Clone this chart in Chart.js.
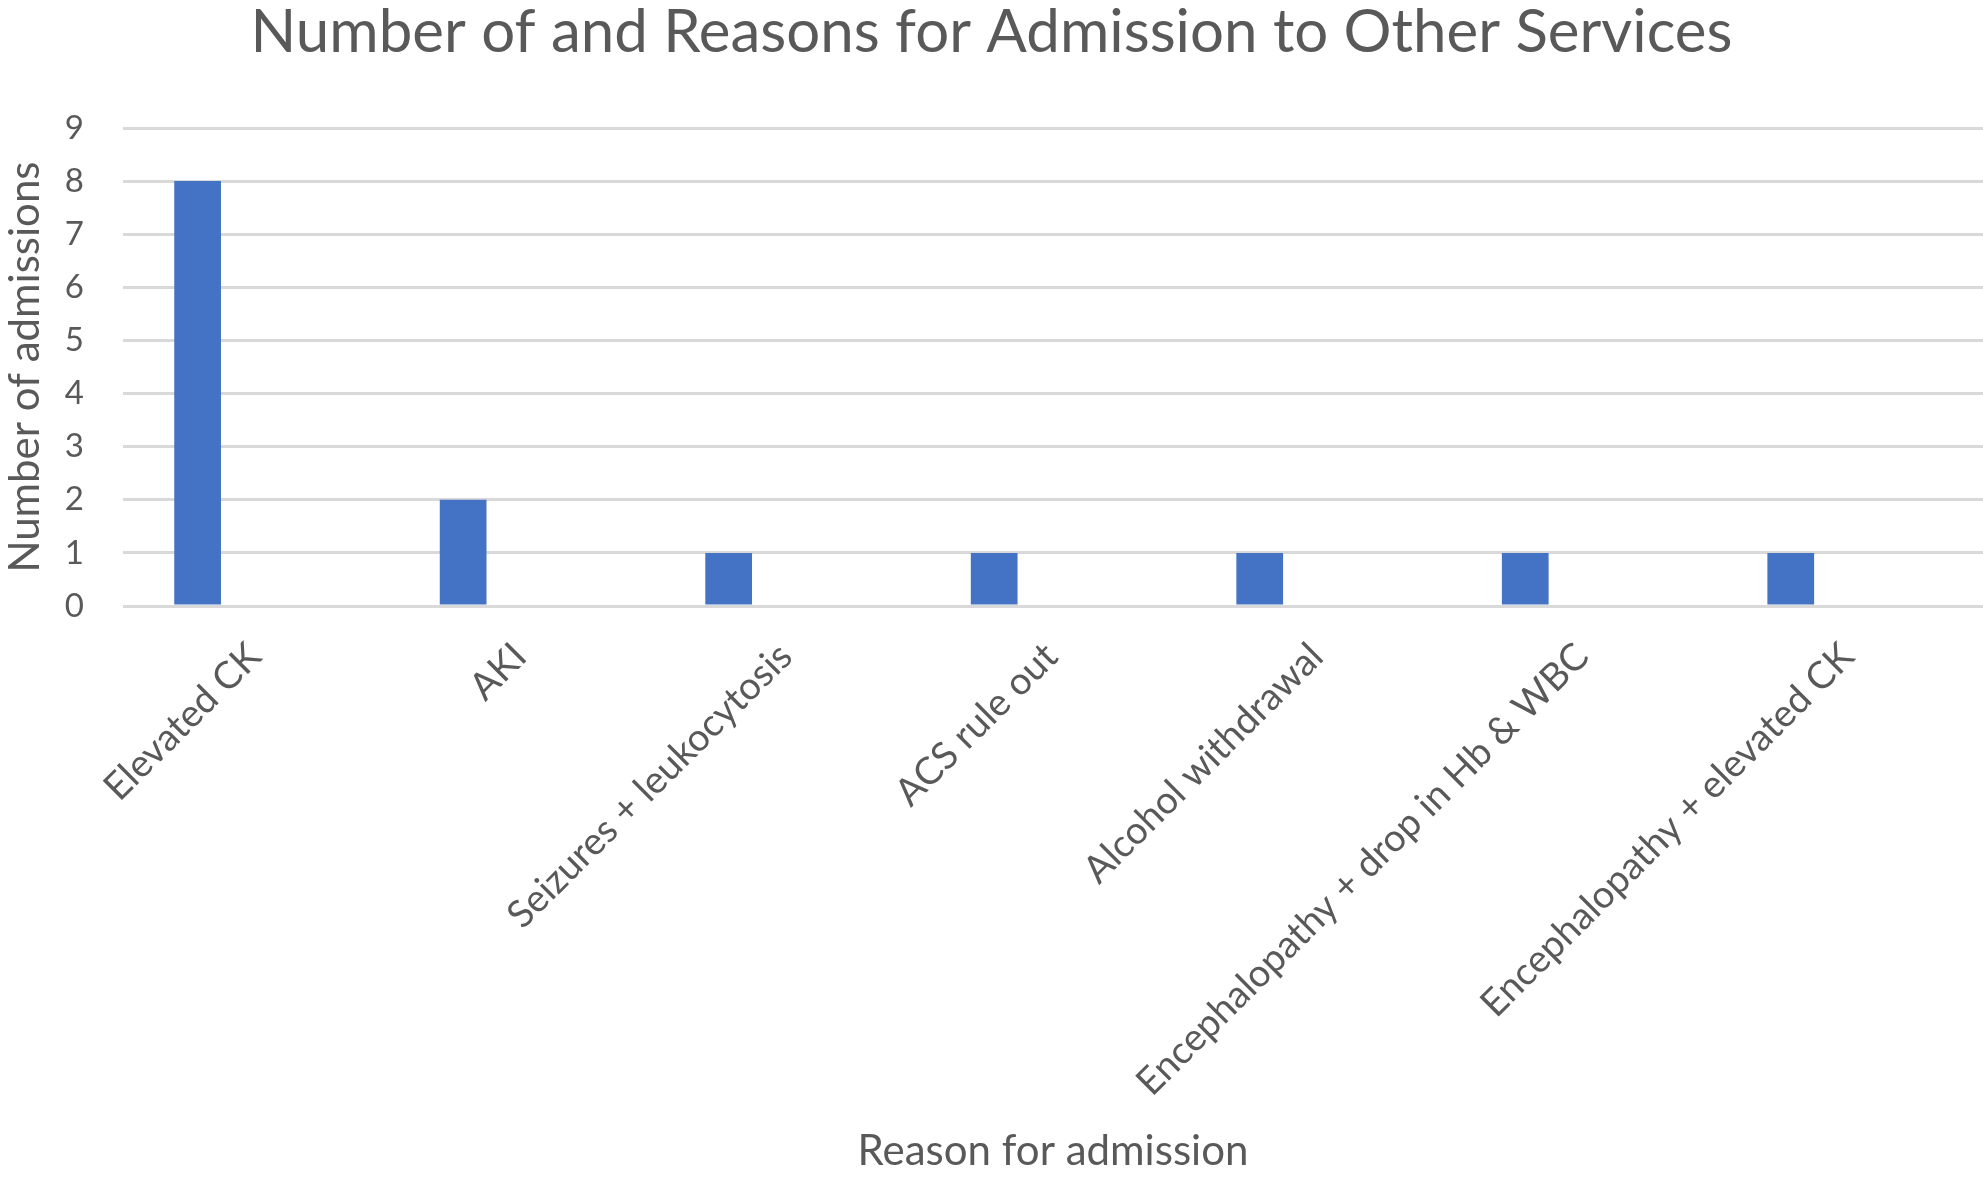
<!DOCTYPE html>
<html>
<head>
<meta charset="utf-8">
<script src="https://cdn.jsdelivr.net/npm/chart.js@4"></script>
<style>
  html, body { margin: 0; padding: 0; background: #ffffff; }
  #chart { display: block; }
</style>
</head>
<body>
<canvas id="chart" width="1983" height="1180"></canvas>
<script>
// Datos
const categories = [
    "Elevated CK",
    "AKI",
    "Seizures + leukocytosis",
    "ACS rule out",
    "Alcohol withdrawal",
    "Encephalopathy + drop in Hb & WBC",
    "Encephalopathy + elevated CK",
];
const admissions = [8, 2, 1, 1, 1, 1, 1];
const yTicks = [0, 1, 2, 3, 4, 5, 6, 7, 8, 9];

const textColor = "#595959";
const gridColor = "#d9d9d9";
const fontFamily = "Lato, 'Open Sans', sans-serif";

(function () {
    const ctx = document.getElementById("chart").getContext("2d");
    new Chart(ctx, {
        type: "bar",
        data: {
            datasets: [
                {
                    label: "Number of admissions",
                    // cada barra va en la posicion de su categoria
                    data: admissions.map((v, i) => ({ x: i, y: v })),
                    backgroundColor: "#4472c4",
                    categoryPercentage: 1,
                    barPercentage: 0.176,
                },
            ],
        },
        options: {
            responsive: false,
            animation: false,
            devicePixelRatio: 1,
            layout: { padding: 0 },
            scales: {
                x: {
                    type: "linear",
                    offset: false,
                    min: -0.281,
                    max: 6.724,
                    grid: { display: false, offset: false },
                    border: { display: false },
                    ticks: {
                        stepSize: 1,
                        includeBounds: false,
                        autoSkip: false,
                        minRotation: 45,
                        maxRotation: 45,
                        padding: 20,
                        labelOffset: 57,
                        color: textColor,
                        font: { family: fontFamily, size: 38 },
                        callback: (value) =>
                            Number.isInteger(value) ? categories[value] : "",
                    },
                    title: {
                        display: true,
                        text: "Reason for admission",
                        color: textColor,
                        font: { family: fontFamily, size: 42 },
                        padding: { top: 0, bottom: 3 },
                    },
                    afterFit: (scale) => {
                        scale.height = 574;
                    },
                },
                y: {
                    min: yTicks[0],
                    max: yTicks[yTicks.length - 1],
                    grid: {
                        color: gridColor,
                        lineWidth: 3,
                        drawTicks: false,
                    },
                    border: { display: false },
                    ticks: {
                        stepSize: 1,
                        padding: 39,
                        color: textColor,
                        font: { family: fontFamily, size: 33 },
                    },
                    title: {
                        display: true,
                        text: "Number of admissions",
                        color: textColor,
                        font: { family: fontFamily, size: 42 },
                        padding: { top: 0, bottom: 0 },
                    },
                    afterFit: (scale) => {
                        scale.width = 123;
                    },
                },
            },
            plugins: {
                legend: { display: false },
                tooltip: { enabled: false },
                title: {
                    display: true,
                    text: "Number of and Reasons for Admission to Other Services",
                    color: textColor,
                    font: { family: fontFamily, size: 60, weight: "normal", lineHeight: 1.1 },
                    padding: { top: 0, bottom: 62 },
                },
            },
        },
    });
})();
</script>
</body>
</html>
